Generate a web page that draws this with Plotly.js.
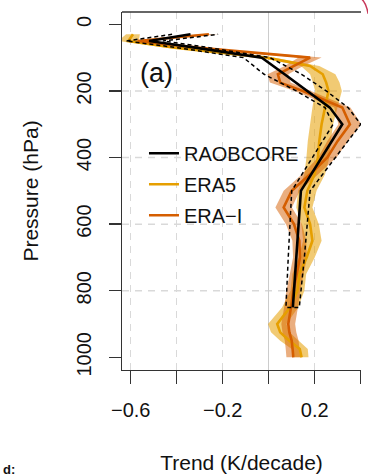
<!DOCTYPE html>
<html><head><meta charset="utf-8">
<script src="https://cdn.plot.ly/plotly-3.0.1.min.js"></script>
<style>html,body{margin:0;padding:0;background:#fff;} #chart{width:368px;height:476px;}</style>
</head><body><div id="chart"></div>
<script>
// RAOBCORE (radiosonde) trend profile with dashed uncertainty bounds
const pRaob  = [30, 50, 70, 100, 150, 200, 250, 300, 400, 500, 700, 850];
const raob   = [-0.34, -0.52, -0.32, -0.03, 0.069, 0.166, 0.266, 0.32, 0.23, 0.14, 0.12, 0.105];
const raobLo = [-0.42, -0.62, -0.40, -0.11, -0.02, 0.12, 0.245, 0.28, 0.19, 0.10, 0.085, 0.075];
const raobHi = [-0.22, -0.46, -0.26, 0.005, 0.143, 0.25, 0.345, 0.40, 0.29, 0.18, 0.155, 0.133];

// Reanalysis pressure levels
const pEra = [30, 50, 70, 100, 125, 150, 175, 200, 250, 300, 350, 400, 450, 500, 550, 600, 650, 700, 750, 800, 850, 900, 925, 950, 975, 1000];
const era5    = [-0.59, -0.61, -0.41, -0.01, 0.18, 0.235, 0.25, 0.26, 0.245, 0.23, 0.22, 0.214, 0.2, 0.168, 0.155, 0.18, 0.19, 0.165, 0.133, 0.125, 0.093, 0.037, 0.05, 0.09, 0.135, 0.143];
const era5Err = [0.03, 0.045, 0.035, 0.03, 0.04, 0.055, 0.058, 0.058, 0.055, 0.05, 0.05, 0.05, 0.045, 0.04, 0.035, 0.038, 0.04, 0.035, 0.03, 0.03, 0.035, 0.04, 0.04, 0.04, 0.035, 0.03];
const eraI    = [-0.26, -0.57, -0.31, 0.18, 0.11, 0.04, 0.05, 0.148, 0.32, 0.353, 0.30, 0.255, 0.18, 0.10, 0.065, 0.11, 0.133, 0.136, 0.122, 0.107, 0.097, 0.085, 0.09, 0.10, 0.104, 0.107];
const eraIErr = [0.04, 0.04, 0.03, 0.05, 0.04, 0.045, 0.045, 0.035, 0.035, 0.05, 0.045, 0.04, 0.035, 0.035, 0.036, 0.035, 0.03, 0.03, 0.03, 0.03, 0.03, 0.03, 0.03, 0.03, 0.03, 0.03];

const seriesNames = ['RAOBCORE', 'ERA5', 'ERA\u2212I'];
const xTickVals = [-0.6, -0.4, -0.2, 0, 0.2, 0.4];
const xTickText = ['\u22120.6', '', '\u22120.2', '', '0.2', ''];
const yTickVals = [0, 200, 400, 600, 800, 1000];
const yTickText = ['0', '200', '400', '600', '800', '1000'];
const gridP = [200, 400, 600, 800];

const FONT = 'Liberation Sans, Arial, Helvetica, sans-serif';
const C_ERA5 = '#E69F00', C_ERAI = '#D55E00';

function band(center, err, p, fill) {
  const lo = center.map((c, i) => c - err[i]);
  const hi = center.map((c, i) => c + err[i]);
  return {
    x: lo.concat(hi.slice().reverse()),
    y: p.concat(p.slice().reverse()),
    type: 'scatter', mode: 'lines', fill: 'toself', fillcolor: fill,
    line: {width: 0}, hoverinfo: 'skip', showlegend: false
  };
}

const traces = [
  band(era5, era5Err, pEra, 'rgba(230,159,0,0.55)'),
  band(eraI, eraIErr, pEra, 'rgba(213,94,0,0.5)'),
  {x: era5, y: pEra, type: 'scatter', mode: 'lines', name: seriesNames[1],
   line: {color: C_ERA5, width: 2.6}, legendrank: 2, legendgroup: 'b'},
  {x: eraI, y: pEra, type: 'scatter', mode: 'lines', name: seriesNames[2],
   line: {color: C_ERAI, width: 2.6}, legendrank: 3, legendgroup: 'c'},
  {x: raobLo.concat(raobHi.slice().reverse()), y: pRaob.concat(pRaob.slice().reverse()),
   type: 'scatter', mode: 'lines', line: {color: '#000', width: 1.5, dash: '4px,3px'},
   showlegend: false, hoverinfo: 'skip'},
  {x: raob, y: pRaob, type: 'scatter', mode: 'lines', name: seriesNames[0],
   line: {color: '#000', width: 2.6}, legendrank: 1, legendgroup: 'a'}
];

const shapes = gridP.map(p => ({
  type: 'line', xref: 'paper', x0: 0, x1: 1, yref: 'y', y0: p, y1: p, layer: 'below',
  line: {color: '#d9d9d9', width: 1.5, dash: '7px,6px'}
}));
shapes.push({type: 'line', xref: 'paper', yref: 'paper', x0: 0, x1: 1, y0: 1, y1: 1,
  line: {color: '#333', width: 1.3}});
shapes.push({type: 'path', xref: 'paper', yref: 'paper',
  path: 'M 1.003 1.036 Q 1.022 1.025 1.03 0.995', line: {color: '#c8385a', width: 1.5}});

const layout = {
  width: 368, height: 476,
  margin: {l: 122, r: 7, t: 12, b: 106, pad: 0},
  paper_bgcolor: '#fff', plot_bgcolor: '#fff',
  font: {family: FONT, color: '#111', size: 20},
  showlegend: true,
  legend: {x: 0.092, xanchor: 'left', y: 0.66, yanchor: 'top', bgcolor: 'rgba(0,0,0,0)',
    borderwidth: 0, font: {family: FONT, size: 20, color: '#111'},
    traceorder: 'grouped', tracegroupgap: 2},
  xaxis: {
    range: [-0.6378, 0.4013], tickmode: 'array', tickvals: xTickVals, ticktext: xTickText,
    ticks: 'outside', ticklen: 13, tickwidth: 1.3, tickcolor: '#333',
    showline: true, linecolor: '#333', linewidth: 1.3, mirror: false,
    showgrid: true, gridcolor: '#d9d9d9', gridwidth: 1.5, griddash: '7px,6px',
    zeroline: true, zerolinecolor: '#cccccc', zerolinewidth: 1.5,
    tickfont: {family: FONT, size: 20, color: '#111'}, ticklabelstandoff: 9,
    title: {text: 'Trend (K/decade)', font: {family: FONT, size: 21, color: '#111'}, standoff: 35}
  },
  yaxis: {
    range: [1038, -37], tickmode: 'array', tickvals: yTickVals, ticktext: yTickText,
    tickangle: -90, ticks: 'outside', ticklen: 12, tickwidth: 1.3, tickcolor: '#333',
    showline: true, linecolor: '#333', linewidth: 1.3, mirror: false,
    showgrid: false, zeroline: false,
    tickfont: {family: FONT, size: 20, color: '#111'}, ticklabelstandoff: 10,
    title: {text: 'Pressure (hPa)', font: {family: FONT, size: 21, color: '#111'}, standoff: 28}
  },
  shapes: shapes,
  annotations: [
    {text: '(a)', xref: 'paper', yref: 'paper', x: 0.146, y: 0.83, xanchor: 'center', yanchor: 'middle',
     showarrow: false, font: {family: FONT, size: 27, color: '#111'}},
    {text: '<b>d:</b>', xref: 'paper', yref: 'paper', x: -0.508, y: -0.279, xanchor: 'left', yanchor: 'middle',
     showarrow: false, font: {family: FONT, size: 13, color: '#111'}}
  ]
};

Plotly.newPlot('chart', traces, layout, {displayModeBar: false, staticPlot: true});
</script></body></html>
